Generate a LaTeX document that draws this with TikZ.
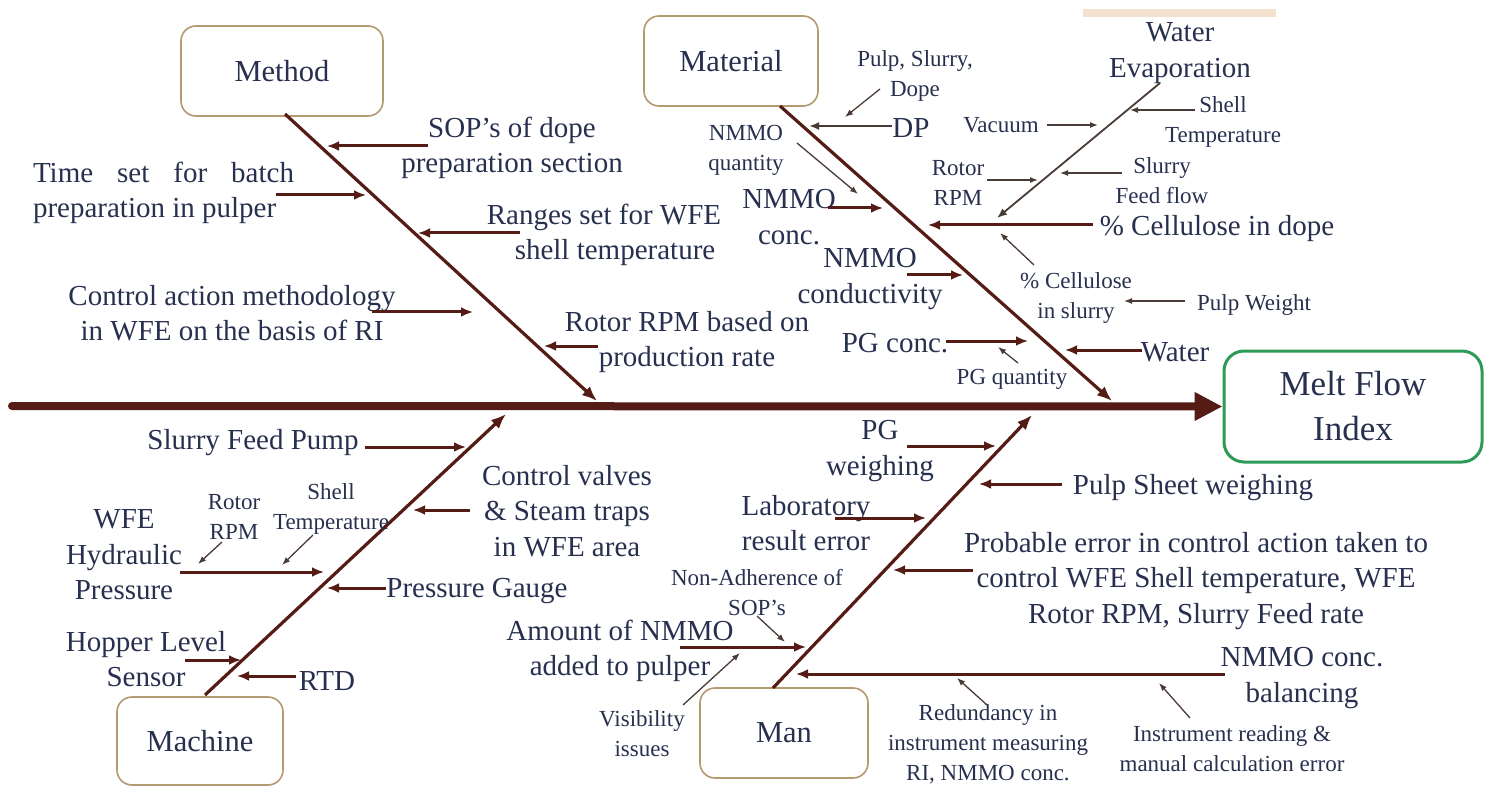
\documentclass[tikz,border=0pt]{standalone}
\usepackage{fontspec}
\setmainfont{Liberation Serif}
\usetikzlibrary{arrows.meta}
\definecolor{txt}{HTML}{28304F}
\definecolor{bonec}{HTML}{541C14}
\definecolor{finec}{HTML}{4B3B36}
\definecolor{boxc}{HTML}{B49A70}
\definecolor{mfic}{HTML}{2E9A57}
\definecolor{barc}{HTML}{F3E2D0}
\begin{document}
\begin{tikzpicture}[x=1pt,y=-1pt,
  big/.style={text=txt,font=\fontsize{29}{35.5}\selectfont,align=center,inner sep=0pt,yshift=-3pt},
  small/.style={text=txt,font=\fontsize{23}{30}\selectfont,align=center,inner sep=0pt,yshift=-3pt},
  catbox/.style={draw=boxc,line width=1.6pt,rounded corners=15pt,text=txt,
    font=\fontsize{30.5}{36}\selectfont,inner sep=0pt},
  spine/.style={draw=bonec,line width=8pt,line cap=round,-{Triangle[length=28pt,width=27pt]}},
  bone/.style={draw=bonec,line width=3.2pt,-{Latex[length=15pt,width=12pt]}},
  cause/.style={draw=bonec,line width=3pt,-{Latex[length=12pt,width=10pt]}},
  midarrow/.style={draw=finec,line width=2pt,-{Latex[length=10pt,width=8pt]}},
  finearrow/.style={draw=finec,line width=1.3pt,-{Latex[length=8pt,width=6pt]}},
]
\useasboundingbox (0,0) rectangle (1491,786);
\fill[white] (0,0) rectangle (1491,786);
\fill[barc] (1083,9) rectangle (1276,17);

% ---------- effect and spine ----------
\node[draw=mfic,line width=3pt,rounded corners=20pt,minimum width=258pt,minimum height=111pt,
  text=txt,font=\fontsize{35}{45}\selectfont,align=center,inner sep=0pt]
  (mfi) at (1353,406.5) {Melt Flow\\Index};
\coordinate (sp0) at (12,406);
\draw[spine] (sp0) -- (mfi.west);

% ---------- category boxes ----------
\node[catbox,minimum width=202pt,minimum height=90pt] (method) at (282,71) {Method};
\node[catbox,minimum width=174pt,minimum height=90pt] (material) at (731,61) {Material};
\node[catbox,minimum width=166pt,minimum height=88pt] (machine) at (200,741) {Machine};
\node[catbox,minimum width=168pt,minimum height=90pt] (man) at (784,733) {Man};

% ---------- main bones ----------
\coordinate (mb0) at (285,114);  \coordinate (mb1) at (597,401);
\coordinate (tb0) at (780,106);  \coordinate (tb1) at (1112,401);
\coordinate (kb0) at (205,695);  \coordinate (kb1) at (506,414);
\coordinate (nb0) at (773,688);  \coordinate (nb1) at (1032,415);
\draw[bone] (mb0) -- (mb1);
\draw[bone] (tb0) -- (tb1);
\draw[bone] (kb0) -- (kb1);
\draw[bone] (nb0) -- (nb1);

% ---------- Method ----------
\node[big] (sop) at (512,145) {SOP’s of dope\\preparation section};
\coordinate (a1s) at (428,146); \coordinate (a1e) at (327,146);
\draw[cause] (a1s) -- (a1e);

\node[big,align=left] (timeset) at (163.5,190) {\makebox[261pt][s]{Time set for batch}\\preparation in pulper};
\coordinate (a2s) at (276,195); \coordinate (a2e) at (366,195);
\draw[cause] (a2s) -- (a2e);

\node[big] (ranges) at (604,232) {Ranges set for WFE\\\hspace*{22pt}shell temperature};
\coordinate (a3s) at (520,233); \coordinate (a3e) at (418,233);
\draw[cause] (a3s) -- (a3e);

\node[big] (ctrl) at (232,310) {Control action methodology\\in WFE on the basis of RI};
\coordinate (a4s) at (372,312); \coordinate (a4e) at (473,312);
\draw[cause] (a4s) -- (a4e);

\node[big] (rotorprod) at (687,339) {Rotor RPM based on\\production rate};
\coordinate (a5s) at (598,346); \coordinate (a5e) at (544,346);
\draw[cause] (a5s) -- (a5e);

% ---------- Material ----------
\node[big] (dp) at (911,125) {DP};
\coordinate (b1s) at (892,126); \coordinate (b1e) at (809,126);
\draw[midarrow] (b1s) -- (b1e);

\node[small] (pulpsl) at (915,73) {Pulp, Slurry,\\Dope};
\coordinate (b2s) at (880,89); \coordinate (b2e) at (845,117);
\draw[finearrow] (b2s) -- (b2e);

\node[small] (nmmoq) at (746,147) {NMMO\\quantity};
\coordinate (b3s) at (797,143); \coordinate (b3e) at (858,194);
\draw[finearrow] (b3s) -- (b3e);

\node[big] (nmmoc) at (789,214) {NMMO\\conc.};
\coordinate (b4s) at (828,208); \coordinate (b4e) at (883,208);
\draw[cause] (b4s) -- (b4e);

\node[big] (celld) at (1217,226) {\% Cellulose in dope};
\coordinate (b5s) at (1093,225); \coordinate (b5e) at (928,225);
\draw[cause] (b5s) -- (b5e);

\node[big] (nmmocond) at (870,276) {NMMO\\conductivity};
\coordinate (b6s) at (907,275); \coordinate (b6e) at (963,275);
\draw[cause] (b6s) -- (b6e);

\node[big] (pgc) at (895,340) {PG conc.};
\coordinate (b7s) at (946,341); \coordinate (b7e) at (1028,341);
\draw[cause] (b7s) -- (b7e);

\node[small] (pgq) at (1012,376) {PG quantity};
\coordinate (b8s) at (1018,363); \coordinate (b8e) at (998,347);
\draw[finearrow] (b8s) -- (b8e);

\node[big] (water) at (1175,349) {Water};
\coordinate (b9s) at (1142,350); \coordinate (b9e) at (1065,350);
\draw[cause] (b9s) -- (b9e);

\node[small] (cells) at (1076,295) {\% Cellulose\\in slurry};
\coordinate (b10s) at (1034,265); \coordinate (b10e) at (1000,233);
\draw[finearrow] (b10s) -- (b10e);

\node[small] (pulpw) at (1254,302) {Pulp Weight};
\coordinate (b11s) at (1185,301); \coordinate (b11e) at (1124,301);
\draw[finearrow] (b11s) -- (b11e);

% water evaporation sub-branch
\node[big] (evap) at (1180,50) {Water\\Evaporation};
\coordinate (we0) at (1160,83); \coordinate (we1) at (997,218);
\draw[draw=finec,line width=1.8pt,-{Latex[length=10pt,width=8pt]}] (we0) -- (we1);

\node[small] (shellt) at (1223,119) {Shell\\Temperature};
\coordinate (c1s) at (1195,110); \coordinate (c1e) at (1130,110);
\draw[finearrow] (c1s) -- (c1e);

\node[small] (vac) at (1001,122) {Vacuum};
\coordinate (c2s) at (1047,125); \coordinate (c2e) at (1098,125);
\draw[finearrow] (c2s) -- (c2e);

\node[small] (sfeed) at (1162,178) {Slurry\\Feed flow};
\coordinate (c3s) at (1122,173); \coordinate (c3e) at (1060,173);
\draw[finearrow] (c3s) -- (c3e);

\node[small] (rrpm) at (958,180) {Rotor\\RPM};
\coordinate (c4s) at (987,180); \coordinate (c4e) at (1038,180);
\draw[finearrow] (c4s) -- (c4e);

% ---------- Machine ----------
\node[big] (sfp) at (253,440) {Slurry Feed Pump};
\coordinate (d1s) at (365,447); \coordinate (d1e) at (466,447);
\draw[cause] (d1s) -- (d1e);

\node[big] (cv) at (567,508) {Control valves\\\& Steam traps\\in WFE area};
\coordinate (d2s) at (470,510); \coordinate (d2e) at (413,510);
\draw[cause] (d2s) -- (d2e);

\node[big] (wfe) at (124,552) {WFE\\Hydraulic\\Pressure};
\coordinate (d3s) at (180,572); \coordinate (d3e) at (324,572);
\draw[cause] (d3s) -- (d3e);

\node[small] (mrpm) at (234,514) {Rotor\\RPM};
\coordinate (d4s) at (222,542); \coordinate (d4e) at (198,564);
\draw[finearrow] (d4s) -- (d4e);

\node[small] (mshell) at (331,506) {Shell\\Temperature};
\coordinate (d5s) at (313,535); \coordinate (d5e) at (282,565);
\draw[finearrow] (d5s) -- (d5e);

\node[big] (pg) at (477,588) {Pressure Gauge};
\coordinate (d6s) at (386,588); \coordinate (d6e) at (327,588);
\draw[cause] (d6s) -- (d6e);

\node[big] (hopper) at (146,656) {Hopper Level\\Sensor};
\coordinate (d7s) at (185,660); \coordinate (d7e) at (241,660);
\draw[cause] (d7s) -- (d7e);

\node[big] (rtd) at (327,678) {RTD};
\coordinate (d8s) at (296,676); \coordinate (d8e) at (237,676);
\draw[cause] (d8s) -- (d8e);

% ---------- Man ----------
\node[big] (pgw) at (880,448) {PG\\weighing};
\coordinate (e1s) at (907,446); \coordinate (e1e) at (996,446);
\draw[cause] (e1s) -- (e1e);

\node[big] (psw) at (1193,485) {Pulp Sheet weighing};
\coordinate (e2s) at (1062,484); \coordinate (e2e) at (979,484);
\draw[cause] (e2s) -- (e2e);

\node[big] (lab) at (806,520) {Laboratory\\result error};
\coordinate (e3s) at (835,518); \coordinate (e3e) at (926,518);
\draw[cause] (e3s) -- (e3e);

\node[big] (prob) at (1196,578) {Probable error in control action taken to\\control WFE Shell temperature, WFE\\Rotor RPM, Slurry Feed rate};
\coordinate (e4s) at (973,570); \coordinate (e4e) at (893,570);
\draw[cause] (e4s) -- (e4e);

\node[small] (nonadh) at (757,590) {Non-Adherence of\\SOP’s};
\coordinate (e5s) at (757,616); \coordinate (e5e) at (785,642);
\draw[finearrow] (e5s) -- (e5e);

\node[big] (amount) at (620,648) {Amount of NMMO\\added to pulper};
\coordinate (e6s) at (680,647); \coordinate (e6e) at (806,647);
\draw[cause] (e6s) -- (e6e);

\node[small] (vis) at (642,731) {Visibility\\issues};
\coordinate (e7s) at (683,705); \coordinate (e7e) at (740,653);
\draw[finearrow] (e7s) -- (e7e);

\node[big] (bal) at (1302,675) {NMMO conc.\\balancing};
\coordinate (e8s) at (1225,674); \coordinate (e8e) at (796,674);
\draw[cause] (e8s) -- (e8e);

\node[small] (redund) at (988,741) {Redundancy in\\instrument measuring\\RI, NMMO conc.};
\coordinate (e9s) at (987,705); \coordinate (e9e) at (957,678);
\draw[finearrow] (e9s) -- (e9e);

\node[small] (instr) at (1232,746) {Instrument reading \&\\manual calculation error};
\coordinate (e10s) at (1190,718); \coordinate (e10e) at (1159,683);
\draw[finearrow] (e10s) -- (e10e);
\end{tikzpicture}
\end{document}
